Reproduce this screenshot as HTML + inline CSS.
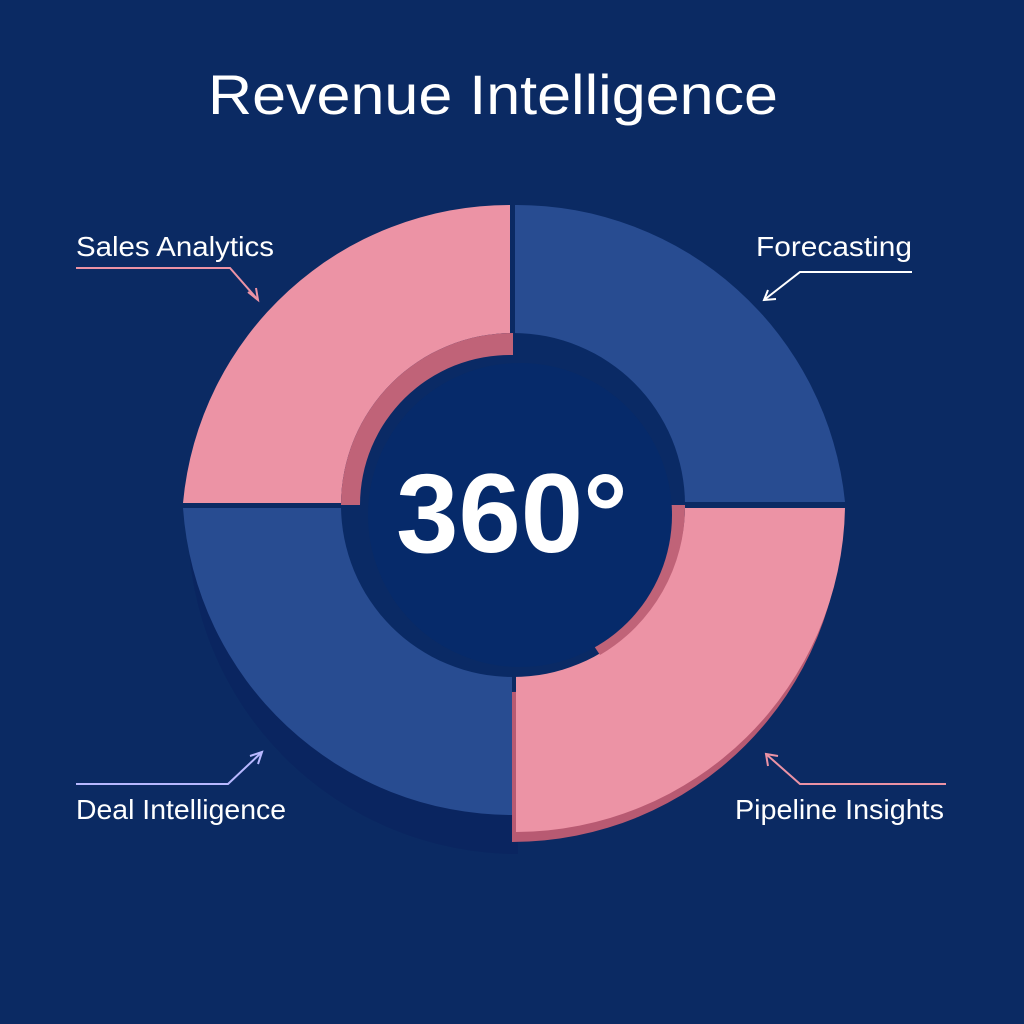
<!DOCTYPE html>
<html><head><meta charset="utf-8"><style>
html,body{margin:0;padding:0;background:#0b2a63;}
svg{display:block}
text{font-family:"Liberation Sans","DejaVu Sans",sans-serif;fill:#fff}
</style></head><body>
<svg width="1024" height="1024" viewBox="0 0 1024 1024">
<rect width="1024" height="1024" fill="#0b2a63"/>
<text x="208" y="114" font-size="56" textLength="570" lengthAdjust="spacingAndGlyphs">Revenue Intelligence</text>
<!-- extrusion shadows -->
<path d="M183,510 A330,330 0 0 0 513,840 L513,690 A168,168 0 0 1 345,510 Z" fill="#0a2560" transform="translate(5,14)"/>
<path d="M845,508 A330,330 0 0 1 515,838 L515,688 A168,168 0 0 0 683,508 Z" fill="#b85a72" transform="translate(-3,4)"/>
<!-- quadrants -->
<path d="M510,205 A328,328 0 0 0 183,503 L342,503 A170,170 0 0 1 510,335 Z" fill="#ec93a5"/>
<path d="M515,205 A330,330 0 0 1 845,502 L683,502 A170,170 0 0 0 515,335 Z" fill="#284c91"/>
<path d="M183,508 A330,330 0 0 0 512,815 L512,660 A170,170 0 0 1 342,508 Z" fill="#284c91"/>
<path d="M845,508 A330,330 0 0 1 516,832 L516,660 A170,170 0 0 0 683,508 Z" fill="#ec93a5"/>
<!-- inner hole -->
<circle cx="513" cy="505" r="172" fill="#0a2a65"/>
<path d="M341,505 A172,172 0 0 1 513,333 L513,355 A150,150 0 0 0 360,505 Z" fill="#c06378"/>
<path d="M685,505 A172,172 0 0 1 600,655 L590,640 A150,150 0 0 0 670,505 Z" fill="#c06378"/>
<circle cx="520" cy="515" r="152" fill="#062a6a"/>
<text x="512" y="552" font-size="112" font-weight="bold" text-anchor="middle">360°</text>
<!-- labels -->
<text x="76" y="256" font-size="28" textLength="198" lengthAdjust="spacingAndGlyphs">Sales Analytics</text>
<text x="756" y="256" font-size="28" textLength="156" lengthAdjust="spacingAndGlyphs">Forecasting</text>
<text x="76" y="819" font-size="28" textLength="210" lengthAdjust="spacingAndGlyphs">Deal Intelligence</text>
<text x="735" y="819" font-size="28" textLength="209" lengthAdjust="spacingAndGlyphs">Pipeline Insights</text>
<g fill="none" stroke-width="2">
<path d="M76,268 H230 L258,300" stroke="#ec93a5"/>
<path d="M248,292 L258,300 L256,288" stroke="#ec93a5"/>
<path d="M912,272 H800 L764,300" stroke="#fff"/>
<path d="M768,290 L764,300 L776,299" stroke="#fff"/>
<path d="M76,784 H228 L262,752" stroke="#b8b8ff"/>
<path d="M250,756 L262,752 L258,764" stroke="#b8b8ff"/>
<path d="M946,784 H800 L766,754" stroke="#ec93a5"/>
<path d="M768,766 L766,754 L778,756" stroke="#ec93a5"/>
</g>
</svg>
</body></html>
